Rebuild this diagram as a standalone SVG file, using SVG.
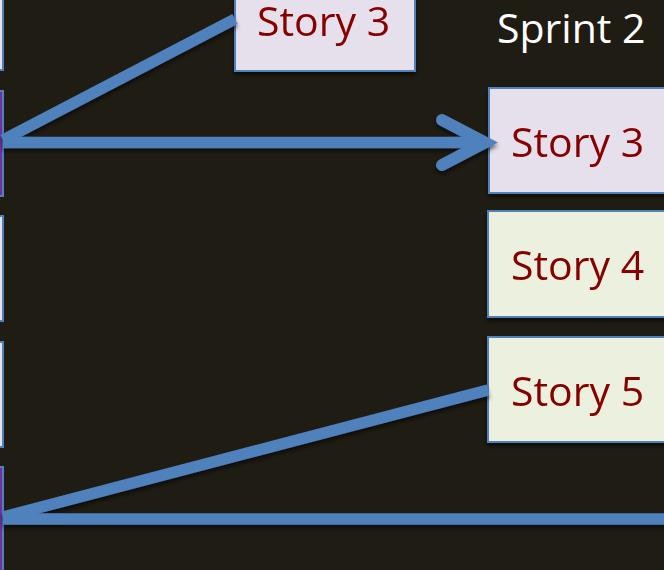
<svg xmlns="http://www.w3.org/2000/svg" width="664" height="570" viewBox="0 0 664 570">
  <defs>
    <style>
      .story { stroke: #4F81BD; stroke-width: 2; }
      .lav { fill: #E6E0EC; }
      .grn { fill: #EBF1DE; }
      .purple { fill: #7030A0; stroke: #4F81BD; stroke-width: 2; }
      .label { font-family: "Open Sans", "Liberation Sans", sans-serif; font-size: 41px; fill: #860000; }
      .title { font-family: "Open Sans", "Liberation Sans", sans-serif; font-size: 41px; fill: #FFFFFF; }
      .link { stroke: #4F81BD; stroke-width: 11.5; fill: none; stroke-linecap: butt; }
      .head { stroke: #4F81BD; stroke-width: 12; fill: none; stroke-linecap: round; stroke-linejoin: miter; }
    </style>
    <filter id="shadow" x="-10%" y="-10%" width="120%" height="130%">
      <feDropShadow dx="0" dy="3" stdDeviation="2" flood-color="#000000" flood-opacity="0.6"/>
    </filter>
  </defs>

  <rect width="664" height="570" fill="#1F1C13"/>

  <!-- Sprint 1 column (cut off at left edge) -->
  <g id="s1-story1"><rect class="story lav" x="-200" y="-35" width="203" height="105"/></g>
  <g id="s1-story2"><rect class="purple" x="-200" y="91" width="203" height="105"/></g>
  <g id="s1-story3"><rect class="story lav" x="-200" y="216" width="203" height="105"/></g>
  <g id="s1-story4"><rect class="story lav" x="-200" y="342" width="203" height="105"/></g>
  <g id="s1-story5"><rect class="purple" x="-200" y="467" width="203" height="140"/></g>

  <!-- Floating story card -->
  <g id="story3-top" filter="url(#shadow)">
    <rect class="story lav" x="235" y="-35" width="180" height="106"/>
    <text class="label" x="257" y="36">Story 3</text>
  </g>

  <!-- Sprint 2 column -->
  <g id="sprint2-title"><text class="title" x="497" y="43">Sprint 2</text></g>
  <g id="s2-story3" filter="url(#shadow)">
    <rect class="story lav" x="489" y="88" width="200" height="105"/>
    <text class="label" x="511" y="157">Story 3</text>
  </g>
  <g id="s2-story4" filter="url(#shadow)">
    <rect class="story grn" x="488" y="211" width="200" height="106"/>
    <text class="label" x="511" y="280">Story 4</text>
  </g>
  <g id="s2-story5" filter="url(#shadow)">
    <rect class="story grn" x="488" y="337" width="200" height="105"/>
    <text class="label" x="511" y="406">Story 5</text>
  </g>

  <!-- Connectors -->
  <g id="connectors" filter="url(#shadow)">
    <line class="link" x1="3" y1="140" x2="235" y2="19"/>
    <line class="link" x1="3" y1="142.5" x2="484" y2="142.5"/>
    <polyline class="head" points="442,120 485,142.5 442,165"/>
    <line class="link" x1="3" y1="517" x2="488" y2="390"/>
    <line class="link" x1="3" y1="519" x2="670" y2="519"/>
  </g>
</svg>
